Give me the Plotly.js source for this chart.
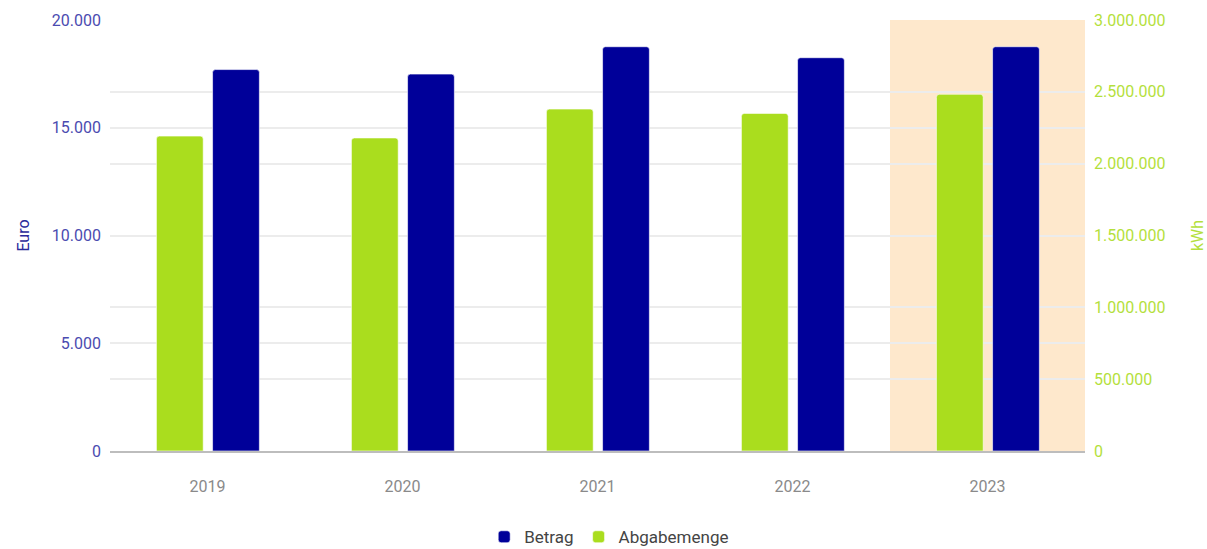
<!DOCTYPE html>
<html>
<head>
<meta charset="utf-8">
<script src="https://cdn.plot.ly/plotly-3.0.1.min.js"></script>
<style>
html,body{margin:0;padding:0;background:#fff;}
#chart{width:1207px;height:549px;}
</style>
</head>
<body>
<div id="chart"></div>
<script>
const years = ['2019', '2020', '2021', '2022', '2023'];
const betrag = [17700, 17490, 18760, 18250, 18760];
const abgabemenge = [2192000, 2179000, 2380000, 2350000, 2483000];
const highlightYear = '2023';

const traces = [
  {
    type: 'bar', name: 'Abgabemenge', x: years, y: abgabemenge, yaxis: 'y2',
    marker: {color: '#aadd1e', cornerradius: 3, line: {color: 'rgba(255,255,255,0.6)', width: 1}},
    width: 0.24, offset: -0.262, legendrank: 2,
    hovertemplate: '%{x}: %{y:,.0f}<extra>Abgabemenge</extra>'
  },
  {
    type: 'bar', name: 'Betrag', x: years, y: betrag, yaxis: 'y',
    marker: {color: '#000099', cornerradius: 3, line: {color: 'rgba(255,255,255,0.6)', width: 1}},
    width: 0.24, offset: 0.026, legendrank: 1,
    hovertemplate: '%{x}: %{y:,.0f} €<extra>Betrag</extra>'
  }
];

const hi = years.indexOf(highlightYear);

const layout = {
  width: 1207, height: 549,
  margin: {l: 110, r: 122, t: 20, b: 98, autoexpand: false},
  paper_bgcolor: '#ffffff', plot_bgcolor: '#ffffff',
  separators: ',.',
  font: {family: 'Roboto, sans-serif', size: 16, color: '#888'},
  barmode: 'overlay',
  showlegend: true,
  legend: {
    orientation: 'h', x: 0.512, xanchor: 'center', y: -0.2, yanchor: 'middle',
    font: {size: 17, color: '#444'}, itemwidth: 30, traceorder: 'normal'
  },
  xaxis: {
    type: 'category', range: [-0.5, 4.5],
    showgrid: false, showline: true, linecolor: '#bdbdbd', linewidth: 1.5,
    ticks: '', tickfont: {size: 16, color: '#8a8a8a'}, ticklabelstandoff: 20
  },
  yaxis: {
    range: [0, 20000], tick0: 0, dtick: 5000, tickformat: ',.0f',
    showgrid: true, gridcolor: '#ececec', gridwidth: 1.5, zeroline: false,
    tickfont: {size: 16, color: '#4b4bb0'}, ticklabelstandoff: 8,
    title: {text: 'Euro', font: {size: 16, color: '#2a2a9a'}, standoff: 18}
  },
  yaxis2: {
    overlaying: 'y', side: 'right',
    range: [0, 3000000], tick0: 0, dtick: 500000, tickformat: ',.0f',
    showgrid: true, gridcolor: '#ececec', gridwidth: 1.5, zeroline: false,
    tickfont: {size: 16, color: '#b4df3c'}, ticklabelstandoff: 8,
    title: {text: 'kWh', font: {size: 16, color: '#b4df3c'}, standoff: 42}
  },
  shapes: [{
    type: 'rect', layer: 'below', xref: 'x', yref: 'y',
    x0: hi - 0.5, x1: hi + 0.5, y0: 0, y1: 20000,
    fillcolor: '#fee8cc', line: {width: 0}
  }]
};

Plotly.newPlot('chart', traces, layout, {displayModeBar: false, staticPlot: false});
</script>
</body>
</html>
